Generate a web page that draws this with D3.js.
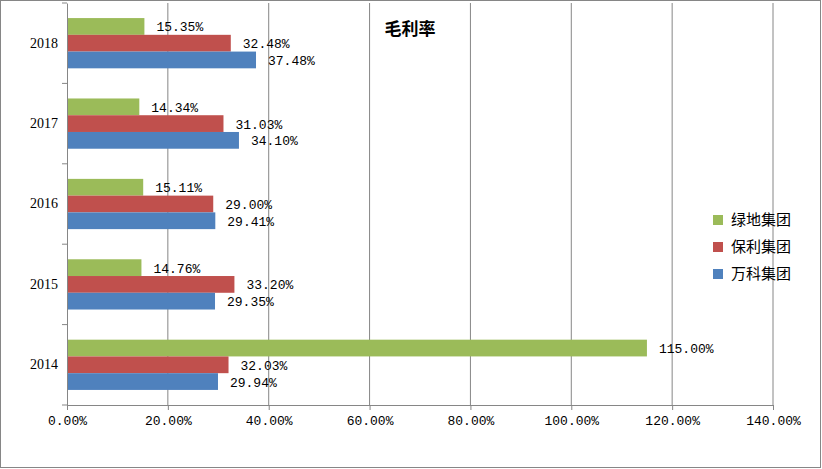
<!DOCTYPE html>
<html><head><meta charset="utf-8">
<script src="https://cdn.jsdelivr.net/npm/d3@7"></script>
<style>body{margin:0;background:#fff}</style>
</head><body><div id="svg"></div>
<script>
// data
const years = ["2014", "2015", "2016", "2017", "2018"];
const series = ["绿地集团", "保利集团", "万科集团"];
const colors = ["#9bbb59", "#c0504d", "#4f81bd"];
const lvdi = [115.00, 14.76, 15.11, 14.34, 15.35];
const baoli = [32.03, 33.20, 29.00, 31.03, 32.48];
const wanke = [29.94, 29.35, 29.41, 34.10, 37.48];
const xTicks = [0, 20, 40, 60, 80, 100, 120, 140];

const width = 822, height = 469;
const margin = { top: 3, bottom: 64, left: 67, right: 49 };
const values = [lvdi, baoli, wanke];

const x = d3.scaleLinear().domain([0, 140]).range([margin.left, width - margin.right]);
const y = d3.scaleBand().domain(years.slice().reverse()).range([margin.top, height - margin.bottom]);
const sub = d3.scaleBand().domain(d3.range(3)).range([0, y.bandwidth()]).paddingOuter(0.9).paddingInner(0);

const svg = d3.select("#svg").append("svg").attr("width", width).attr("height", height);
svg.append("rect").attr("x", 0.5).attr("y", 0.5).attr("width", width - 2).attr("height", height - 2)
  .attr("fill", "#fff").attr("stroke", "#868686");

// gridlines
svg.append("g").selectAll("line").data(xTicks.slice(1)).join("line")
  .attr("x1", d => x(d)).attr("x2", d => x(d))
  .attr("y1", margin.top).attr("y2", height - margin.bottom)
  .attr("stroke", "#868686");

// bars
series.forEach((s, si) => {
  svg.append("g").selectAll("rect").data(years).join("rect")
    .attr("x", x(0))
    .attr("y", (d) => y(d) + sub(si))
    .attr("width", (d, i) => x(values[si][i]) - x(0))
    .attr("height", sub.bandwidth())
    .attr("fill", colors[si]);
  svg.append("g").selectAll("text").data(years).join("text")
    .attr("x", (d, i) => x(values[si][i]) + 12)
    .attr("y", (d) => y(d) + sub(si) + sub.bandwidth() / 2 + 5)
    .attr("font-family", "Liberation Mono, monospace").attr("font-size", 13)
    .text((d, i) => values[si][i].toFixed(2) + "%");
});

// axes
svg.append("g").attr("transform", `translate(0,${height - margin.bottom})`)
  .call(d3.axisBottom(x).tickValues(xTicks).tickFormat(d => d.toFixed(2) + "%").tickSize(5))
  .call(g => g.selectAll("text").attr("font-family", "Liberation Mono, monospace").attr("font-size", 13).attr("dy", 12).attr("fill", "#000"))
  .call(g => g.selectAll("line,path").attr("stroke", "#868686"));
svg.append("g").attr("transform", `translate(${margin.left},0)`)
  .call(d3.axisLeft(y).tickSize(0).tickPadding(9))
  .call(g => g.selectAll("text").attr("font-family", "Liberation Serif, serif").attr("font-size", 14).attr("fill", "#000"))
  .call(g => g.selectAll("path").attr("stroke", "#868686"));
svg.append("g").selectAll("line").data(d3.range(years.length + 1)).join("line")
  .attr("x1", margin.left - 5).attr("x2", margin.left)
  .attr("y1", i => margin.top + i * y.step()).attr("y2", i => margin.top + i * y.step())
  .attr("stroke", "#868686");

// title
svg.append("text").attr("x", 410).attr("y", 35).attr("text-anchor", "middle")
  .attr("font-family", "Noto Sans CJK SC").attr("font-weight", "bold").attr("font-size", 17).text("毛利率");

// legend
const leg = svg.append("g").selectAll("g").data(series).join("g")
  .attr("transform", (d, i) => `translate(713,${215 + i * 27})`);
leg.append("rect").attr("width", 10).attr("height", 10).attr("fill", (d, i) => colors[i]);
leg.append("text").attr("x", 18).attr("y", 10).attr("font-family", "Noto Sans CJK SC").attr("font-size", 15).text(d => d);
</script></body></html>
